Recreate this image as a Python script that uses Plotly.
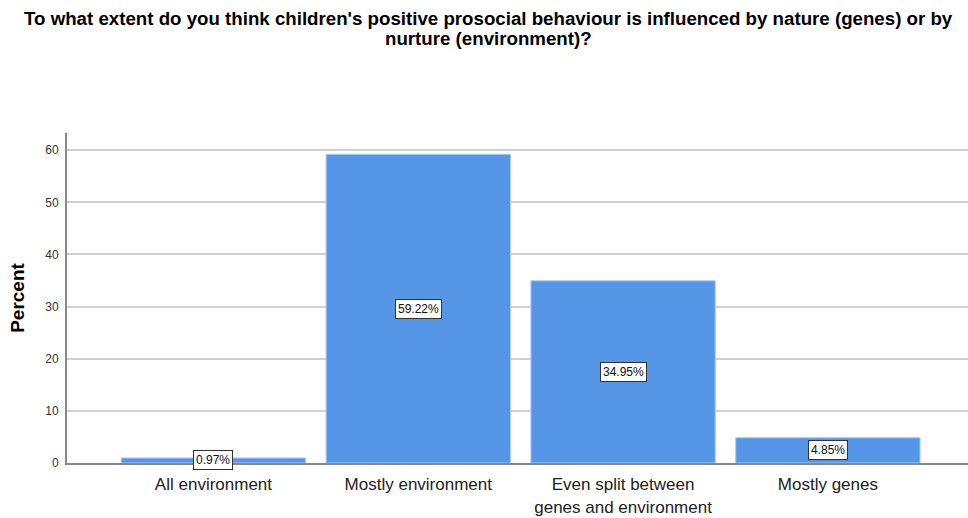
import plotly.graph_objects as go

categories = ["All environment", "Mostly environment",
              "Even split between<br>genes and environment", "Mostly genes"]
percents = [0.97, 59.22, 34.95, 4.85]
y_ticks = [0, 10, 20, 30, 40, 50, 60]
title_lines = [
    "To what extent do you think children's positive prosocial behaviour is influenced by nature (genes) or by",
    "nurture (environment)?",
]

bar_color = "#5596E6"
fig_width = 968
plot_left_px = 67
plot_top_px = 133
title_centre_px = 488

fig = go.Figure()
fig.add_trace(go.Bar(
    x=list(range(len(categories))),
    y=percents,
    width=0.9,
    marker=dict(color=bar_color, line=dict(color="#A9CBF3", width=1)),
    hoverinfo="skip",
))

# boxed percentage labels at the middle of each bar
for i, v in enumerate(percents):
    fig.add_annotation(
        x=i, y=v / 2, text=f"{v:.2f}%", showarrow=False,
        font=dict(family="Arial", size=12, color="#111111"),
        bgcolor="white", bordercolor="#333333", borderwidth=1, borderpad=2,
        xanchor="center", yanchor="middle",
    )

# chart title, one annotation per line for tight line spacing,
# centred on the page rather than on the plot area
title_x = (title_centre_px - plot_left_px) / (fig_width - plot_left_px)
for line, centre_px in zip(title_lines, [18, 38]):
    fig.add_annotation(
        text=line,
        x=title_x, xref="paper", xanchor="center",
        y=1, yref="paper", yanchor="middle", yshift=plot_top_px - centre_px,
        showarrow=False,
        font=dict(family="Arial", size=18.7, color="#000000", weight="bold"),
    )

fig.update_layout(
    width=fig_width, height=518,
    margin=dict(l=plot_left_px, r=0, t=plot_top_px, b=55),
    paper_bgcolor="white", plot_bgcolor="white",
    showlegend=False,
    bargap=0.1,
)

fig.update_xaxes(
    range=[-0.715, 3.684],
    tickmode="array", tickvals=list(range(len(categories))), ticktext=categories,
    tickfont=dict(family="Arial", size=17, color="#222222"),
    ticklabelstandoff=5,
    showline=True, linecolor="#888888", linewidth=2,
    showgrid=False, ticks="", zeroline=False,
)
fig.update_yaxes(
    range=[0, 63.3],
    tickmode="array", tickvals=y_ticks,
    tickfont=dict(family="Arial", size=12, color="#333333"),
    ticklabelstandoff=4,
    title=dict(text="Percent", font=dict(family="Arial", size=19, color="#000000", weight="bold"), standoff=16),
    showline=True, linecolor="#888888", linewidth=2,
    showgrid=True, gridcolor="#D0D0D0", gridwidth=1.5,
    ticks="", zeroline=False,
)

fig.write_html("out.html")
